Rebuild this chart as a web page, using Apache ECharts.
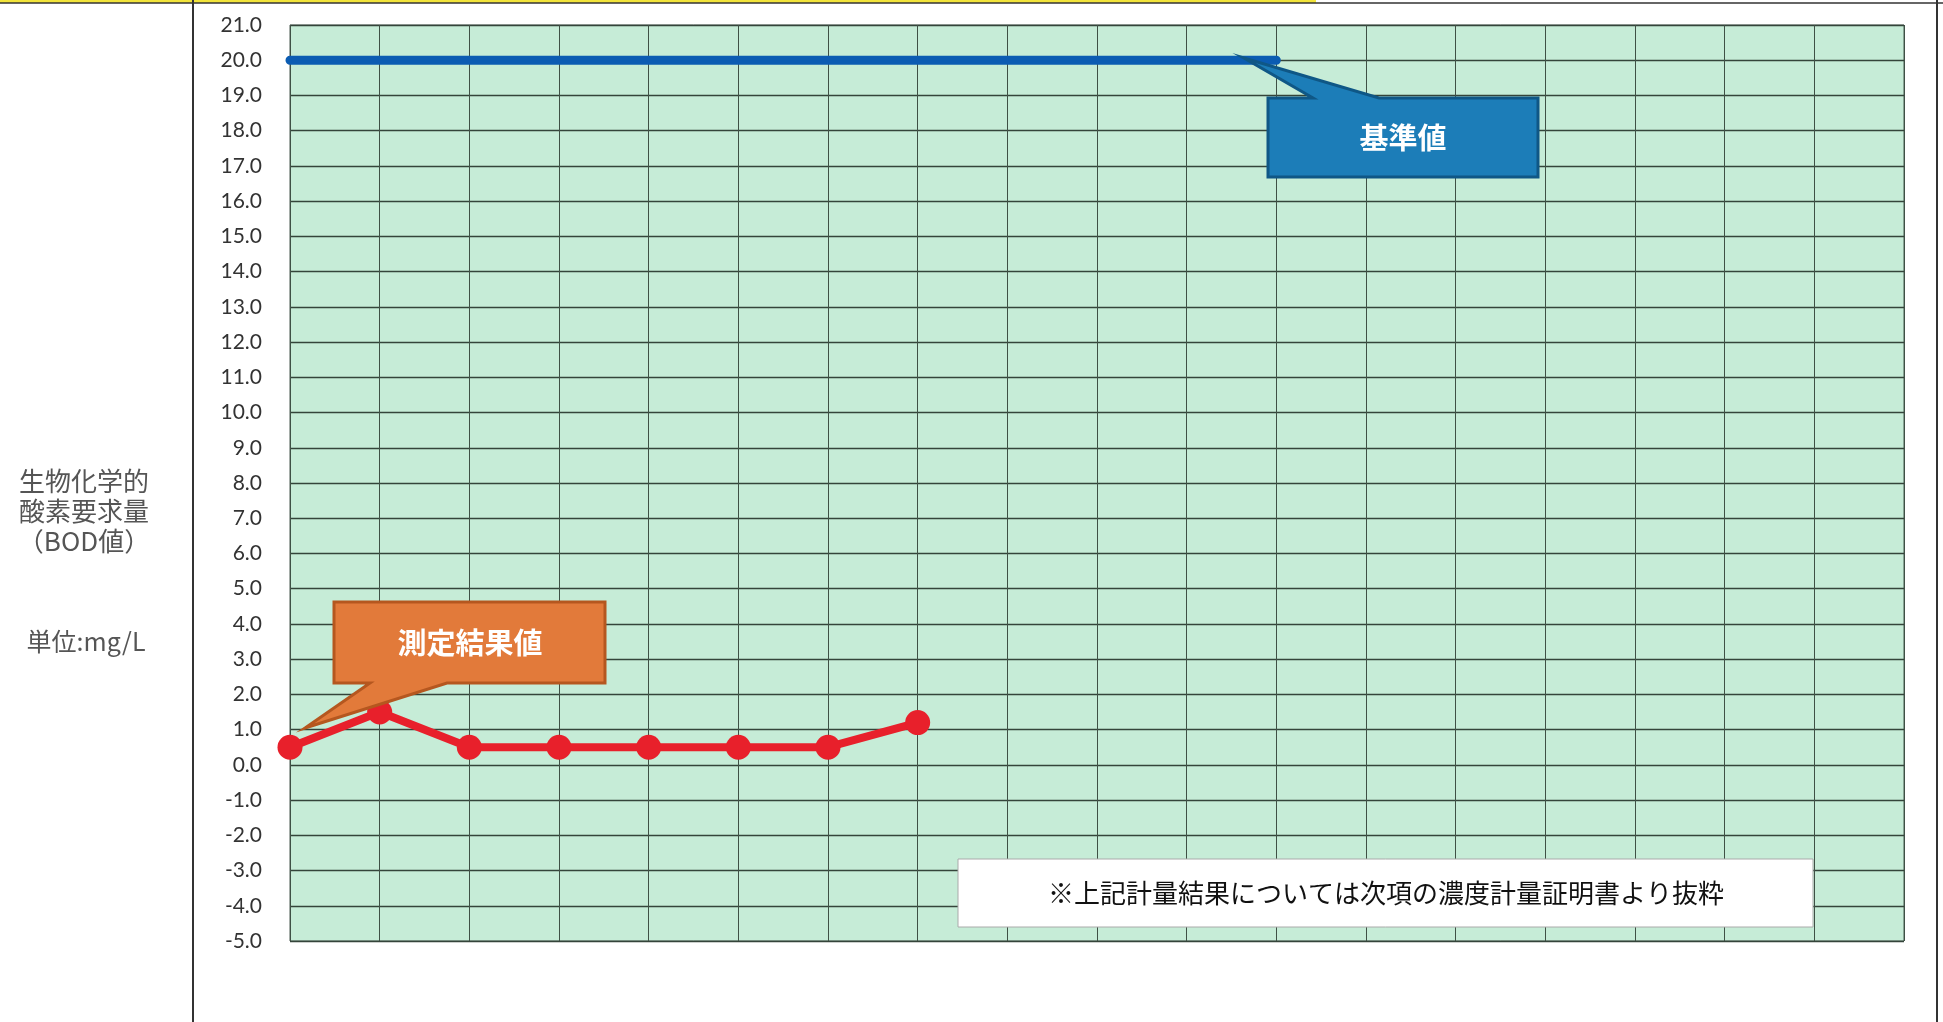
<!DOCTYPE html>
<html><head><meta charset="utf-8">
<script src="https://cdn.jsdelivr.net/npm/echarts@6/dist/echarts.min.js"></script>
<style>html,body{margin:0;padding:0;background:#fff;}#c{width:1943px;height:1022px;}</style>
</head><body><div id="c"></div>
<script>
const categories = ['1','2','3','4','5','6','7','8','9','10','11','12','13','14','15','16','17','18','19'];
const measured = [0.5, 1.5, 0.5, 0.5, 0.5, 0.5, 0.5, 1.2];
const standard = [20, 20, 20, 20, 20, 20, 20, 20, 20, 20, 20, 20];
const yMin = -5, yMax = 21, yStep = 1;
const titleLines = ['生物化学的', '酸素要求量', '（BOD値）'];
const unitLabel = '単位:mg/L';
const measuredLabel = '測定結果値';
const standardLabel = '基準値';
const noteText = '※上記計量結果については次項の濃度計量証明書より抜粋';

const chart = echarts.init(document.getElementById('c'));
const cjk = '"Noto Sans CJK JP", sans-serif';
chart.setOption({
  backgroundColor: '#fff',
  animation: false,
  grid: { left: 290, top: 25, right: 39, bottom: 81, show: true, backgroundColor: '#C6ECD7', borderColor: '#4a5a50', borderWidth: 1 },
  xAxis: {
    type: 'category', data: categories, boundaryGap: false,
    axisLine: { show: false }, axisTick: { show: false }, axisLabel: { show: false },
    splitLine: { show: true, lineStyle: { color: '#3f5045', width: 1 } }
  },
  yAxis: {
    type: 'value', min: yMin, max: yMax, interval: yStep,
    axisLine: { show: false }, axisTick: { show: false },
    axisLabel: { margin: 28, fontFamily: 'Lato, sans-serif', fontSize: 21, color: '#333', formatter: v => v.toFixed(1) },
    splitLine: { show: true, lineStyle: { color: '#34443a', width: 1.4 } }
  },
  series: [
    { name: standardLabel, type: 'line', data: standard, showSymbol: false, symbol: 'none',
      lineStyle: { color: '#0B5CB2', width: 9, cap: 'round' }, z: 3 },
    { name: measuredLabel, type: 'line', data: measured, symbol: 'circle', symbolSize: 25,
      itemStyle: { color: '#E8202B' }, lineStyle: { color: '#E8202B', width: 8 }, z: 4 }
  ],
  graphic: [
    { type: 'rect', shape: { x: 0, y: 0, width: 1316, height: 3 }, style: { fill: '#F2E43A' }, silent: true },
    { type: 'line', shape: { x1: 0, y1: 3, x2: 1943, y2: 3 }, style: { stroke: '#333', lineWidth: 1.5 }, silent: true },
    { type: 'line', shape: { x1: 193, y1: 0, x2: 193, y2: 1022 }, style: { stroke: '#333', lineWidth: 2 }, silent: true },
    { type: 'line', shape: { x1: 1937, y1: 0, x2: 1937, y2: 1022 }, style: { stroke: '#333', lineWidth: 2 }, silent: true },
    { type: 'text', x: 84, y: 511, style: { text: titleLines.join('\n'), fontFamily: cjk, fontSize: 26, lineHeight: 30, fill: '#555', align: 'center', verticalAlign: 'middle' } },
    { type: 'text', x: 86, y: 641, style: { text: unitLabel, fontFamily: cjk, fontSize: 25, fill: '#555', align: 'center', verticalAlign: 'middle' } },
    { type: 'polygon', shape: { points: [[334,602],[605,602],[605,683],[447,683],[305,728],[370,683],[334,683]] },
      style: { fill: '#E27A3A', stroke: '#B5571F', lineWidth: 3 }, z: 10 },
    { type: 'text', x: 470, y: 643, style: { text: measuredLabel, fontFamily: cjk, fontWeight: 'bold', fontSize: 29, fill: '#fff', align: 'center', verticalAlign: 'middle' }, z: 11 },
    { type: 'polygon', shape: { points: [[1268,98],[1313,98],[1244,58],[1379,98],[1538,98],[1538,177],[1268,177]] },
      style: { fill: '#1C7DB8', stroke: '#0F5786', lineWidth: 3 }, z: 10 },
    { type: 'text', x: 1403, y: 138, style: { text: standardLabel, fontFamily: cjk, fontWeight: 'bold', fontSize: 29, fill: '#fff', align: 'center', verticalAlign: 'middle' }, z: 11 },
    { type: 'rect', shape: { x: 958, y: 859, width: 855, height: 68 }, style: { fill: '#fff', stroke: '#aaa', lineWidth: 1 }, z: 10 },
    { type: 'text', x: 1386, y: 893, style: { text: noteText, fontFamily: cjk, fontSize: 26, fill: '#111', align: 'center', verticalAlign: 'middle' }, z: 11 }
  ]
});
</script></body></html>
